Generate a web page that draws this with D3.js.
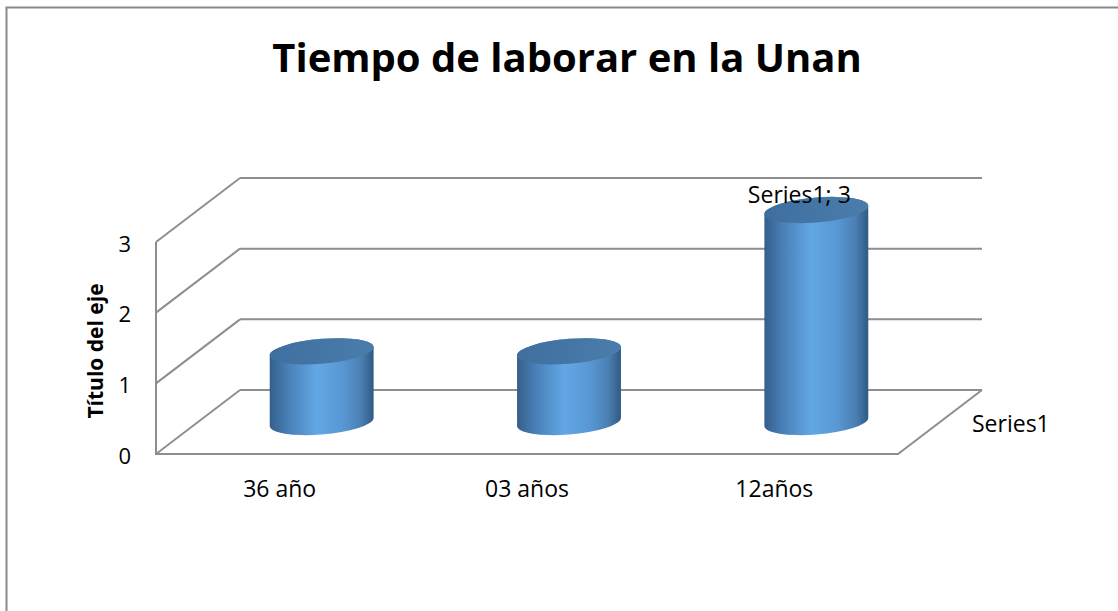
<!DOCTYPE html>
<html>
<head>
<meta charset="utf-8">
<script src="https://cdn.jsdelivr.net/npm/d3@7"></script>
<style>
    body { margin: 0; background: #fff; }
    svg { display: block; font-family: "Open Sans", sans-serif; }
</style>
</head>
<body>
<svg id="chart" width="1118" height="611"></svg>
<script>

// Data.

const categories = ["36 año", "03 años", "12años"];
const values = [1, 1, 3];
const seriesName = "Series1";
const yTicks = [0, 1, 2, 3];

// Chart frame.

const svg = d3.select("#chart");

const plot = { L: 156, R: 898, T: 242, B: 454 };
const depth = { dx: 84, dy: -64 };   // offset from front plane to back wall

const x = d3.scaleBand()
    .domain(categories)
    .range([plot.L, plot.R]);

const y = d3.scaleLinear()
    .domain([0, 3])
    .range([plot.B, plot.T]);

// Project a point onto depth d (0 = front, 1 = back).
function proj(px, py, d) {
    return [px + depth.dx * d, py + depth.dy * d];
}

svg.append("rect")
    .attr("x", 6.5)
    .attr("y", 7.5)
    .attr("width", 1200)
    .attr("height", 700)
    .attr("fill", "none")
    .attr("stroke", "#8a8a8a")
    .attr("stroke-width", 2);

// Title.

svg.append("text")
    .attr("x", 567)
    .attr("y", 72)
    .attr("text-anchor", "middle")
    .attr("font-size", 40)
    .attr("font-weight", "bold")
    .text("Tiempo de laborar en la Unan");

//----------------------------------------------------------------------------//
//                                   WALLS                                    //
//----------------------------------------------------------------------------//

const grid = svg.append("g")
    .attr("stroke", "#8e8e8e")
    .attr("stroke-width", 2)
    .attr("fill", "none");

// Back wall gridlines and side wall diagonals.
yTicks.forEach(t => {
    const a = proj(plot.L, y(t), 1);
    const b = proj(plot.R, y(t), 1);
    grid.append("line")
        .attr("x1", a[0]).attr("y1", a[1])
        .attr("x2", b[0]).attr("y2", b[1]);
    grid.append("line")
        .attr("x1", plot.L).attr("y1", y(t))
        .attr("x2", a[0]).attr("y2", a[1]);
});

// Left wall front edge, floor front edge and floor right edge.
const fr = proj(plot.R, y(0), 1);
grid.append("path")
    .attr("d", `M${plot.L},${y(3)} L${plot.L},${y(0)} L${plot.R},${y(0)} L${fr[0]},${fr[1]}`);

//----------------------------------------------------------------------------//
//                                 CYLINDERS                                  //
//----------------------------------------------------------------------------//

const defs = svg.append("defs");

const bodyGrad = defs.append("linearGradient")
    .attr("id", "bodyGrad")
    .attr("x1", "0%").attr("x2", "100%")
    .attr("y1", "0%").attr("y2", "0%");
[
    [0, "#355f8a"], [0.18, "#4880b8"], [0.45, "#62a7e5"],
    [0.7, "#5898d4"], [0.88, "#4a7fb2"], [1, "#2f5a83"]
].forEach(([o, c]) => bodyGrad.append("stop").attr("offset", o).attr("stop-color", c));

const topGrad = defs.append("linearGradient")
    .attr("id", "topGrad")
    .attr("x1", "0%").attr("x2", "100%")
    .attr("y1", "0%").attr("y2", "0%");
[[0, "#3f6f9f"], [1, "#4a7dac"]]
    .forEach(([o, c]) => topGrad.append("stop").attr("offset", o).attr("stop-color", c));

const rx = x.bandwidth() * 0.21;
const ry = 12.5;

const cyl = svg.selectAll("g.cyl")
    .data(categories.map((c, i) => ({ cat: c, value: values[i] })))
    .join("g")
        .attr("class", "cyl")
        .attr("transform", d => {
            const p = proj(x(d.cat) + x.bandwidth() / 2, y(0), 0.5);
            return `translate(${p[0]},${p[1]}) skewY(-4.5)`;
        });

cyl.append("path")
    .attr("fill", "url(#bodyGrad)")
    .attr("d", d => {
        const top = y(d.value) - y(0);
        return `M${-rx},${top} L${-rx},0 A${rx},${ry} 0 0 0 ${rx},0 ` +
               `L${rx},${top} A${rx},${ry} 0 0 0 ${-rx},${top} Z`;
    });

cyl.append("ellipse")
    .attr("cx", 0)
    .attr("cy", d => y(d.value) - y(0))
    .attr("rx", rx)
    .attr("ry", ry)
    .attr("fill", "url(#topGrad)");

// Data label on the tallest column.
const maxI = values.indexOf(d3.max(values));
const lp = proj(x(categories[maxI]) + x.bandwidth() / 2, y(values[maxI]), 0.5);
svg.append("text")
    .attr("x", lp[0] - 17)
    .attr("y", lp[1] - 7)
    .attr("text-anchor", "middle")
    .attr("font-size", 23)
    .text(`${seriesName}; ${values[maxI]}`);

//----------------------------------------------------------------------------//
//                                    AXES                                    //
//----------------------------------------------------------------------------//

const yAx = svg.append("g")
    .attr("transform", `translate(${plot.L}, 0)`)
    .call(d3.axisLeft(y).tickValues(yTicks).tickFormat(d3.format("d")).tickSize(0).tickPadding(25));
yAx.select(".domain").remove();
yAx.selectAll("text")
    .attr("font-family", "Open Sans")
    .attr("font-size", 22)
    .attr("fill", "#000")
    .attr("dy", "0.42em");

const xAx = svg.append("g")
    .attr("transform", `translate(0, ${plot.B})`)
    .call(d3.axisBottom(x).tickSize(0).tickPadding(27));
xAx.select(".domain").remove();
xAx.selectAll("text")
    .attr("font-family", "Open Sans")
    .attr("font-size", 23)
    .attr("fill", "#000");

// Axis title.
svg.append("text")
    .attr("transform", "translate(103, 351) rotate(-90)")
    .attr("text-anchor", "middle")
    .attr("font-size", 21)
    .attr("font-weight", "bold")
    .text("Título del eje");

// Depth axis (series) label.
const sp = proj(plot.R, y(0), 0.5);
svg.append("text")
    .attr("x", sp[0] + 32)
    .attr("y", sp[1] + 10)
    .attr("font-size", 23)
    .text(seriesName);

</script>
</body>
</html>
